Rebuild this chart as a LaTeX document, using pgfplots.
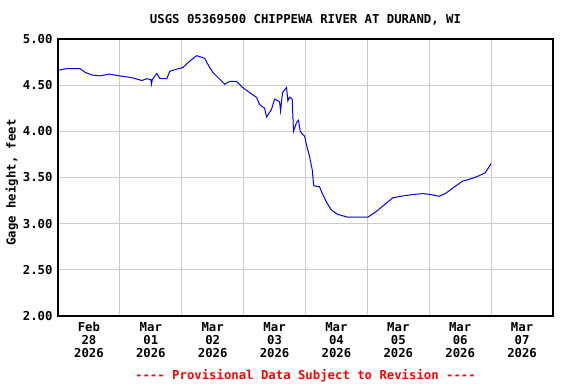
\documentclass[border=0pt]{standalone}
\usepackage{fontspec}
\newfontfamily\mono{DejaVu Sans Mono}
\usepackage{pgfplots}
\pgfplotsset{compat=1.18}
\definecolor{usgsblue}{RGB}{0,0,255}
\definecolor{gridgray}{RGB}{204,204,204}
\newcommand{\lab}{\fontsize{12.3bp}{12.8bp}\selectfont\mono\bfseries}
\pgfplotstableread{
d v
0.000 4.66
0.065 4.67
0.145 4.68
0.355 4.68
0.435 4.64
0.548 4.61
0.677 4.60
0.823 4.62
0.919 4.61
1.000 4.60
1.113 4.59
1.242 4.573
1.355 4.55
1.435 4.57
1.500 4.56
1.511 4.51
1.524 4.56
1.597 4.627
1.645 4.573
1.758 4.57
1.806 4.65
1.919 4.674
2.016 4.69
2.129 4.76
2.242 4.82
2.371 4.79
2.419 4.73
2.500 4.64
2.613 4.565
2.694 4.51
2.774 4.54
2.887 4.54
2.984 4.475
3.097 4.42
3.210 4.366
3.258 4.29
3.339 4.25
3.371 4.155
3.452 4.24
3.500 4.35
3.581 4.32
3.597 4.22
3.629 4.42
3.694 4.475
3.715 4.33
3.742 4.37
3.785 4.35
3.806 4.00
3.855 4.095
3.887 4.12
3.915 4.00
3.947 3.97
3.984 3.95
4.021 3.84
4.065 3.73
4.108 3.587
4.134 3.41
4.226 3.40
4.279 3.315
4.334 3.24
4.415 3.15
4.521 3.10
4.682 3.07
5.005 3.07
5.140 3.13
5.302 3.22
5.408 3.28
5.569 3.30
5.731 3.315
5.892 3.326
6.027 3.315
6.161 3.297
6.269 3.33
6.431 3.41
6.537 3.46
6.645 3.48
6.774 3.51
6.903 3.55
6.952 3.60
7.000 3.65
}\gage
\begin{document}
\begin{tikzpicture}
\path[use as bounding box] (-58bp,-68bp) rectangle (518bp,316bp);
\begin{axis}[
  at={(0,0)}, anchor=south west,
  scale only axis, width=495bp, height=277bp,
  xmin=0, xmax=8, ymin=2, ymax=5,
  axis line style={line width=1.5bp, black},
  xtick={0.5,1.5,...,7.5},
  xticklabels={{Feb\\28\\2026},{Mar\\01\\2026},{Mar\\02\\2026},{Mar\\03\\2026},{Mar\\04\\2026},{Mar\\05\\2026},{Mar\\06\\2026},{Mar\\07\\2026}},
  minor xtick={1,2,...,7},
  xminorgrids, ymajorgrids,
  ytick={2,2.5,...,5},
  major tick length=0pt, minor tick length=0pt,
  grid style={draw=gridgray, line width=1.2bp},
  minor grid style={draw=gridgray, line width=1.2bp},
  xticklabel style={align=center, font=\lab, yshift=-3bp},
  yticklabel style={font=\lab, xshift=-2bp},
  yticklabel={\pgfmathprintnumber[fixed,fixed zerofill,precision=2,assume math mode=true]{\tick}},
  clip=false,
]
\addplot[usgsblue, line width=1bp] table[x=d,y=v] {\gage};
\node[font=\lab, anchor=base] at (rel axis cs:0.5,1) [yshift=15bp] {USGS 05369500 CHIPPEWA RIVER AT DURAND, WI};
\node[font=\lab, rotate=90, anchor=center] at ([xshift=-46bp, yshift=-5bp]rel axis cs:0,0.5) {Gage height, feet};
\node[font=\lab, text=red, anchor=base] at (rel axis cs:0.5,0) [yshift=-63bp] {---- Provisional Data Subject to Revision ----};
\end{axis}
\end{tikzpicture}
\end{document}
